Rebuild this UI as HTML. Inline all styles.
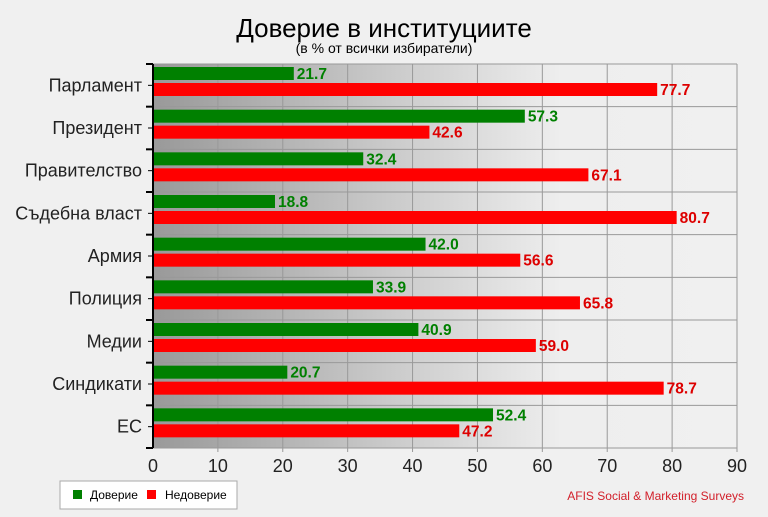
<!DOCTYPE html>
<html><head><meta charset="utf-8"><style>body{margin:0;background:#f0f0f0}</style></head><body>
<svg width="768" height="512" xmlns="http://www.w3.org/2000/svg" font-family="Liberation Sans, sans-serif">
<defs><linearGradient id="g" x1="0" x2="1" y1="0" y2="0">
<stop offset="0" stop-color="#999"/><stop offset="0.7" stop-color="#eeeeee"/><stop offset="1" stop-color="#f0f0f0"/></linearGradient></defs>
<rect width="768" height="512" fill="#f0f0f0"/>
<text x="384" y="37" text-anchor="middle" font-size="26">Доверие в институциите</text>
<text x="384" y="53" text-anchor="middle" font-size="14">(в % от всички избиратели)</text>
<rect x="153" y="64" width="584" height="384" fill="url(#g)"/>
<g id="bars"></g>
<line x1="153" y1="64" x2="153" y2="448" stroke="#000" stroke-width="2"/>
<rect x="60" y="481" width="177" height="28" fill="#fff" stroke="#aaa"/>
<rect x="73" y="490" width="9" height="9" fill="#008000"/>
<text x="90" y="499" font-size="12">Доверие</text>
<rect x="147" y="490" width="9" height="9" fill="#f00"/>
<text x="165" y="499" font-size="12">Недоверие</text>
<text x="744" y="500" text-anchor="end" font-size="12" fill="#d21f2a">AFIS Social &amp; Marketing Surveys</text>
</svg>
<script>
const cats=["Парламент","Президент","Правителство","Съдебна власт","Армия","Полиция","Медии","Синдикати","ЕС"];
const a=[21.7,57.3,32.4,18.8,42.0,33.9,40.9,20.7,52.4],b=[77.7,42.6,67.1,80.7,56.6,65.8,59.0,78.7,47.2];
const X=v=>153+v*584/90,H=384/9;
let s='';
for(let v=10;v<=90;v+=10)s+=`<line x1="${X(v)}" y1="64" x2="${X(v)}" y2="452" stroke="#999"/>`;
for(let v=0;v<=90;v+=10)s+=`<text x="${X(v)}" y="472" text-anchor="middle" font-size="18" fill="#222">${v}</text>`;
for(let i=0;i<=9;i++){const y=64+H*i;s+=`<line x1="146" y1="${y}" x2="737" y2="${y}" stroke="#999"/><line x1="146" y1="${y}" x2="153" y2="${y}" stroke="#000" stroke-width="2"/>`;}
cats.forEach((c,i)=>{const t=64+H*i;
s+=`<line x1="148" y1="${t+H/2}" x2="153" y2="${t+H/2}" stroke="#000"/>`;
s+=`<text x="142" y="${t+H/2+6}" text-anchor="end" font-size="18" fill="#222">${c}</text>`;
s+=`<rect x="153" y="${t+3}" width="${X(a[i])-153}" height="13" fill="#008000"/>`;
s+=`<rect x="153" y="${t+19}" width="${X(b[i])-153}" height="13" fill="#f00"/>`;
s+=`<text x="${X(a[i])+3}" y="${t+15}" font-size="15.5" font-weight="bold" fill="#008000">${a[i].toFixed(1)}</text>`;
s+=`<text x="${X(b[i])+3}" y="${t+31}" font-size="15.5" font-weight="bold" fill="#d00">${b[i].toFixed(1)}</text>`;});
document.getElementById('bars').innerHTML=s;
</script>
</body></html>
